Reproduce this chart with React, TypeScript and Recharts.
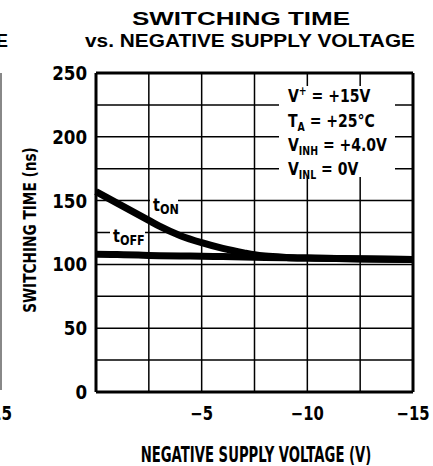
import { LineChart, Line, XAxis, YAxis, CartesianGrid, ReferenceLine } from "recharts";

// Negative supply voltage (V) at which the curves were read.
const voltage = [0, -1, -2, -2.5, -3, -4, -5, -6, -7, -7.5, -8, -9, -10, -12.5, -15];

// Switching times (ns).
const tOn = [157, 148, 139, 134.5, 130, 122.5, 117, 112.5, 109, 107.5, 106.5, 105.5, 105, 104.3, 103.8];
const tOff = [108, 107.7, 107.3, 107, 106.8, 106.6, 106.4, 106.1, 105.8, 105.6, 105.4, 105.2, 105, 104.4, 103.8];

// Grid positions; only some carry a label.
const xTicks = [0, -2.5, -5, -7.5, -10, -12.5, -15];
const xLabels = [-5, -10, -15];
const yTicks = [0, 25, 50, 75, 100, 125, 150, 175, 200, 225, 250];
const yLabels = [0, 50, 100, 150, 200, 250];

const data = voltage.map((v, i) => ({ v, tOn: tOn[i], tOff: tOff[i] }));

const FONT = "'DejaVu Sans', sans-serif";
const WIDE = "'Liberation Sans', Arial, sans-serif";

// text squeezed sideways, the original uses a condensed type face
function NText({ x, y, sx = 0.8, size = 19, anchor = "start", rotate = 0, children }: any) {
  return (
    <g transform={`translate(${x} ${y}) rotate(${rotate}) scale(${sx} 1)`}>
      <text x={0} y={0} fontFamily={FONT} fontWeight="bold" fontSize={size} fill="#000" textAnchor={anchor}>
        {children}
      </text>
    </g>
  );
}

function XTick({ x, y, payload }: any) {
  if (!xLabels.includes(payload.value)) return null;
  return (
    <NText x={x} y={y + 22} sx={0.78} anchor="middle">
      {`\u2212${Math.abs(payload.value)}`}
    </NText>
  );
}

function YTick({ x, y, payload }: any) {
  if (!yLabels.includes(payload.value)) return null;
  return (
    <NText x={x} y={y + 7} sx={0.88} anchor="end">
      {String(payload.value)}
    </NText>
  );
}

export default function App() {
  return (
    <div style={{ position: "absolute", left: 0, top: 0, width: 433, height: 466, background: "#fff" }}>
      <LineChart width={433} height={466} data={data} margin={{ top: 73, right: 20, bottom: 0, left: 0 }}>
        <CartesianGrid stroke="#000" strokeWidth={1.5} />
        <XAxis
          dataKey="v"
          type="number"
          domain={[-15, 0]}
          reversed
          ticks={xTicks}
          tickLine={false}
          tickMargin={0}
          height={74}
          axisLine={{ stroke: "#000", strokeWidth: 3 }}
          tick={<XTick />}
        />
        <YAxis
          type="number"
          domain={[0, 250]}
          ticks={yTicks}
          tickLine={false}
          tickMargin={3}
          width={96}
          axisLine={{ stroke: "#000", strokeWidth: 3 }}
          tick={<YTick />}
        />
        <ReferenceLine y={250} stroke="#000" strokeWidth={3} />
        <ReferenceLine x={-15} stroke="#000" strokeWidth={3} />
        <Line type="monotone" dataKey="tOff" stroke="#000" strokeWidth={7} dot={false} isAnimationActive={false} />
        <Line type="monotone" dataKey="tOn" stroke="#000" strokeWidth={7} dot={false} isAnimationActive={false} />
      </LineChart>

      {/* white patches that break the grid behind the labels */}
      <div style={{ position: "absolute", left: 279, top: 86, width: 116, height: 91, background: "#fff" }} />
      <div style={{ position: "absolute", left: 150, top: 193, width: 28, height: 21, background: "#fff" }} />
      <div style={{ position: "absolute", left: 110, top: 224, width: 35, height: 21, background: "#fff" }} />

      <svg width={433} height={466} style={{ position: "absolute", left: 0, top: 0 }}>
        <g fontFamily={WIDE} fontWeight="bold" fill="#000" fontSize={17.5}>
          <text x={132} y={25} textLength={218} lengthAdjust="spacingAndGlyphs">SWITCHING TIME</text>
          <text x={85} y={47} textLength={330} lengthAdjust="spacingAndGlyphs">vs. NEGATIVE SUPPLY VOLTAGE</text>
          <text x={8} y={47} textAnchor="end">E</text>
        </g>
        <NText x={256} y={462} sx={0.63} size={21} anchor="middle">NEGATIVE SUPPLY VOLTAGE (V)</NText>
        <NText x={36} y={230} sx={0.76} size={18} anchor="middle" rotate={-90}>SWITCHING TIME (ns)</NText>
        <NText x={12} y={420} sx={0.8} anchor="end">15</NText>

        <NText x={153} y={211} sx={0.8} size={18}>t<tspan fontSize={14} dy={3}>ON</tspan></NText>
        <NText x={113} y={242} sx={0.8} size={18}>t<tspan fontSize={14} dy={3}>OFF</tspan></NText>

        <NText x={288} y={102} sx={0.78} size={18}>V<tspan fontSize={12} dy={-7}>+</tspan><tspan dy={7}> = +15V</tspan></NText>
        <NText x={288} y={127} sx={0.78} size={18}>T<tspan fontSize={12} dy={4}>A</tspan><tspan dy={-4}> = +25°C</tspan></NText>
        <NText x={288} y={151} sx={0.78} size={18}>V<tspan fontSize={12} dy={4}>INH</tspan><tspan dy={-4}> = +4.0V</tspan></NText>
        <NText x={288} y={175} sx={0.78} size={18}>V<tspan fontSize={12} dy={4}>INL</tspan><tspan dy={-4}> = 0V</tspan></NText>

        <line x1={1} y1={73} x2={1} y2={390} stroke="#888" strokeWidth={2} />
      </svg>
    </div>
  );
}
